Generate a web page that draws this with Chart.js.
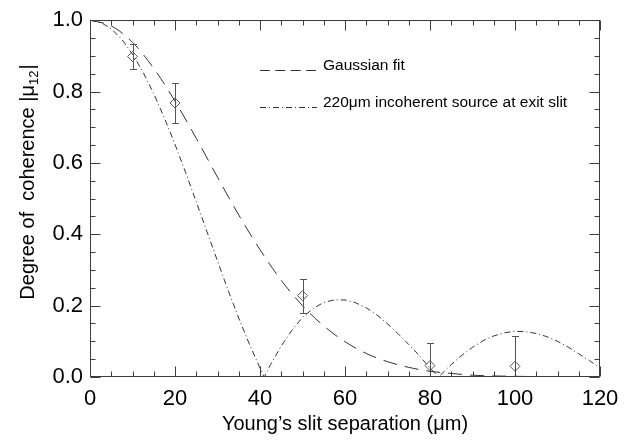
<!DOCTYPE html>
<html>
<head>
<meta charset="utf-8">
<script src="https://cdn.jsdelivr.net/npm/chart.js@4/dist/chart.umd.min.js"></script>
<style>
  html, body { margin: 0; padding: 0; background: #fff; }
  canvas { display: block; }
</style>
</head>
<body>
<canvas id="c" width="632" height="440"></canvas>
<script>
// Gaussian fit
const gaussX = [0, 5, 10, 15, 20, 25, 30, 35, 40, 45, 50, 55, 60, 65, 70, 75, 80, 85, 90, 95, 100, 105, 110];
const gaussY = [1.0, 0.984, 0.938, 0.865, 0.773, 0.669, 0.560, 0.454, 0.357, 0.271, 0.200, 0.143,
                0.099, 0.066, 0.043, 0.027, 0.016, 0.010, 0.005, 0.003, 0.002, 0.001, 0.0];

// 220um incoherent source at exit slit
const srcX = [0, 2.5, 5, 7.5, 10, 12.5, 15, 17.5, 20, 22.5, 25, 27.5, 30, 32.5, 35, 37.5, 40, 41,
              42.5, 45, 47.5, 50, 52.5, 55, 57.5, 60, 62.5, 65, 67.5, 70, 72.5, 75, 77.5, 80, 82,
              85, 87.5, 90, 92.5, 95, 97.5, 100, 102.5, 105, 107.5, 110, 112.5, 115, 117.5, 120];
const srcY = [1.0, 0.994, 0.976, 0.946, 0.905, 0.854, 0.794, 0.726, 0.652, 0.573, 0.491, 0.408,
              0.325, 0.243, 0.165, 0.092, 0.025, 0.0,
              0.035, 0.087, 0.131, 0.167, 0.192, 0.209, 0.216, 0.216, 0.208, 0.194, 0.174, 0.149,
              0.121, 0.091, 0.060, 0.025, 0.0,
              0.035, 0.061, 0.083, 0.102, 0.115, 0.124, 0.128, 0.127, 0.122, 0.113, 0.100, 0.084,
              0.065, 0.046, 0.025];

// measured coherence with error bars
const measX = [10, 20, 50, 80, 100];
const measY = [0.898, 0.768, 0.228, 0.032, 0.030];
const measErr = [0.034, 0.056, 0.048, 0.064, 0.084];

const xTicks = [0, 20, 40, 60, 80, 100, 120];
const yTicks = [0.0, 0.2, 0.4, 0.6, 0.8, 1.0];
const legendLabels = ['Gaussian fit', '220\u03bcm incoherent source at exit slit'];

const FONT = "'Liberation Sans', Arial, Helvetica, sans-serif";
const AXIS = '#3c3c3c';
const LINE = '#333';
const GAUSS_DASH = [14, 8];
const SRC_DASH = [6, 3, 1, 3];

const zip = (xs, ys) => xs.map((x, i) => ({ x, y: ys[i] }));

// inward ticks on all four sides + frame
const framePlugin = {
  id: 'frame',
  afterDraw(chart) {
    const { ctx, chartArea: a, scales: { x, y } } = chart;
    const L = Math.round(a.left) + 0.5, R = Math.round(a.right) - 0.5;
    const T = Math.round(a.top) + 0.5, B = Math.round(a.bottom) - 0.5;
    ctx.save();
    ctx.strokeStyle = AXIS;
    ctx.lineWidth = 1;
    ctx.beginPath();
    for (let v = 0; v <= 120.001; v += 5) {
      const px = Math.round(x.getPixelForValue(v)) + 0.5;
      const len = v % 20 === 0 ? 10 : 5;
      ctx.moveTo(px, B); ctx.lineTo(px, B - len);
      ctx.moveTo(px, T); ctx.lineTo(px, T + len);
    }
    for (let i = 0; i <= 20; i++) {
      const py = Math.round(y.getPixelForValue(i * 0.05)) + 0.5;
      const len = i % 4 === 0 ? 10 : 5;
      ctx.moveTo(L, py); ctx.lineTo(L + len, py);
      ctx.moveTo(R, py); ctx.lineTo(R - len, py);
    }
    ctx.stroke();
    ctx.strokeRect(L, T, R - L, B - T);
    ctx.restore();
  }
};

// vertical error bars for the measured points
const errPlugin = {
  id: 'errbars',
  afterDatasetsDraw(chart) {
    const { ctx, chartArea: a, scales: { x, y } } = chart;
    ctx.save();
    ctx.beginPath();
    ctx.rect(a.left, a.top, a.right - a.left, a.bottom - a.top);
    ctx.clip();
    ctx.strokeStyle = '#555';
    ctx.lineWidth = 1;
    ctx.beginPath();
    measX.forEach((mx, i) => {
      const px = Math.round(x.getPixelForValue(mx)) + 0.5;
      const top = Math.round(y.getPixelForValue(measY[i] + measErr[i])) + 0.5;
      const bot = Math.round(y.getPixelForValue(measY[i] - measErr[i])) + 0.5;
      ctx.moveTo(px, top); ctx.lineTo(px, bot);
      ctx.moveTo(px - 3.5, top); ctx.lineTo(px + 3.5, top);
      ctx.moveTo(px - 3.5, bot); ctx.lineTo(px + 3.5, bot);
    });
    ctx.stroke();
    ctx.restore();
  }
};

// legend inside the plot + y title with subscript
const textPlugin = {
  id: 'texts',
  afterDraw(chart) {
    const { ctx, chartArea: a } = chart;
    ctx.save();
    // legend
    const dashes = [GAUSS_DASH.map(d => d * 0.7), SRC_DASH];
    const rows = [70, 107];
    ctx.font = '15.5px ' + FONT;
    ctx.textBaseline = 'alphabetic';
    ctx.fillStyle = '#000';
    legendLabels.forEach((lab, i) => {
      ctx.strokeStyle = LINE;
      ctx.lineWidth = 1;
      ctx.setLineDash(dashes[i]);
      ctx.beginPath();
      ctx.moveTo(260, rows[i] + 0.5);
      ctx.lineTo(317, rows[i] + 0.5);
      ctx.stroke();
      ctx.setLineDash([]);
      ctx.fillText(lab, 323, rows[i]);
    });
    // y title
    const main = 'Degree of  coherence |\u03bc';
    const sub = '12';
    const end = '|';
    ctx.font = '20px ' + FONT;
    const w1 = ctx.measureText(main).width;
    const w3 = ctx.measureText(end).width;
    ctx.font = '13px ' + FONT;
    const w2 = ctx.measureText(sub).width + 1;
    const total = w1 + w2 + w3;
    ctx.translate(34, 182);
    ctx.rotate(-Math.PI / 2);
    let xx = -total / 2;
    ctx.font = '20px ' + FONT;
    ctx.fillText(main, xx, 0);
    xx += w1;
    ctx.font = '13px ' + FONT;
    ctx.fillText(sub, xx, 4);
    xx += w2;
    ctx.font = '20px ' + FONT;
    ctx.fillText(end, xx, 0);
    ctx.restore();
  }
};

new Chart(document.getElementById('c'), {
  type: 'line',
  data: {
    datasets: [
      {
        label: legendLabels[0],
        data: zip(gaussX, gaussY),
        borderColor: LINE, borderWidth: 1, borderDash: GAUSS_DASH,
        pointRadius: 0, cubicInterpolationMode: 'monotone', fill: false,
      },
      {
        label: legendLabels[1],
        data: zip(srcX, srcY),
        borderColor: LINE, borderWidth: 1, borderDash: SRC_DASH,
        pointRadius: 0, tension: 0, fill: false,
      },
      {
        label: 'measured',
        data: zip(measX, measY),
        showLine: false,
        pointStyle: 'rectRot', pointRadius: 5, pointBorderWidth: 1,
        pointBorderColor: '#555', pointBackgroundColor: 'rgba(0,0,0,0)',
      },
    ],
  },
  options: {
    responsive: false, animation: false, devicePixelRatio: 1,
    layout: { padding: { top: 16, right: 32, left: 0, bottom: 0 } },
    plugins: { legend: { display: false }, tooltip: { enabled: false } },
    scales: {
      x: {
        type: 'linear', min: 0, max: 120,
        afterBuildTicks: (s) => { s.ticks = xTicks.map(v => ({ value: v })); },
        afterFit: (s) => { s.height = 63; },
        grid: { display: false, drawTicks: false }, border: { display: false },
        ticks: { color: '#000', font: { size: 22, family: FONT }, padding: 9, maxRotation: 0 },
        title: {
          display: true, text: 'Young\u2019s slit separation (\u03bcm)', color: '#000',
          font: { size: 20, family: FONT }, padding: { top: 0, bottom: 4 },
        },
      },
      y: {
        type: 'linear', min: 0, max: 1,
        afterBuildTicks: (s) => { s.ticks = yTicks.map(v => ({ value: v })); },
        afterFit: (s) => { s.width = 90; },
        grid: { display: false, drawTicks: false }, border: { display: false },
        ticks: { color: '#000', font: { size: 22, family: FONT }, padding: 7,
                 callback: (v) => Number(v).toFixed(1) },
      },
    },
  },
  plugins: [framePlugin, errPlugin, textPlugin],
});
</script>
</body>
</html>
